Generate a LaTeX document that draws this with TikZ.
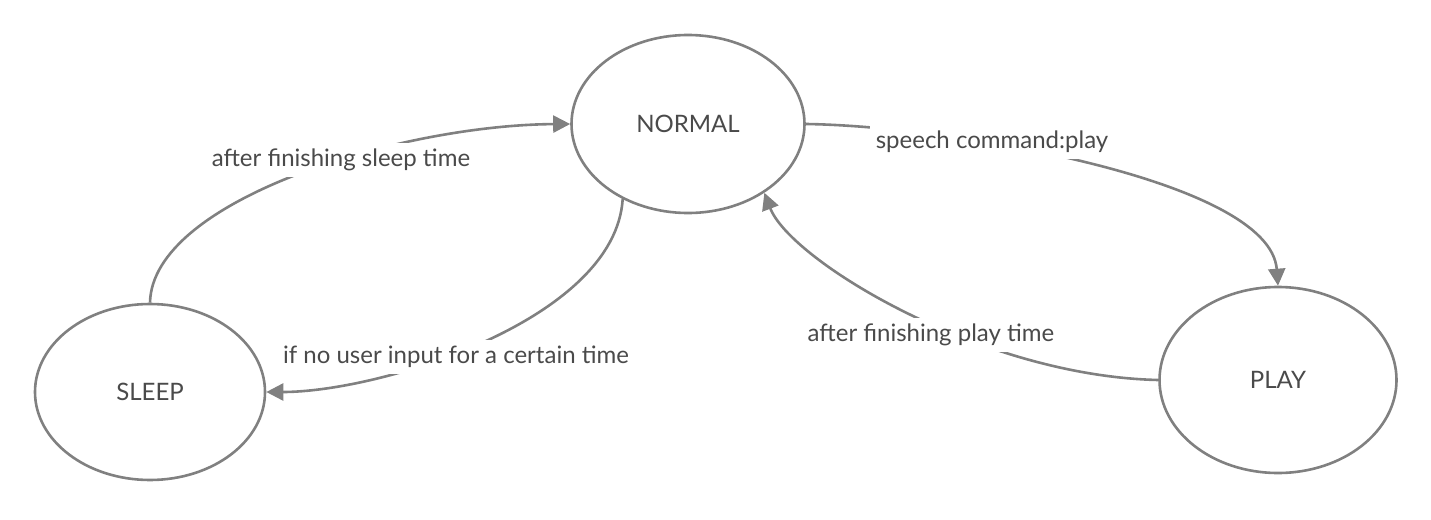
\documentclass[tikz,border=0pt]{standalone}
\usepackage{fontspec}
\setmainfont{Lato}
\usetikzlibrary{shapes.geometric,arrows.meta}
\definecolor{edgegray}{HTML}{808080}
\definecolor{txtgray}{HTML}{4A4A4A}
\tikzset{
  statebox/.style={ellipse, draw=edgegray, line width=2.6pt, fill=white, text=txtgray, font=\fontsize{24}{28}\selectfont, inner sep=0pt},
  conn/.style={draw=edgegray, line width=2.6pt, -{Triangle[length=17pt,width=17pt]}},
  lbl/.style={fill=white, text=txtgray, font=\fontsize{24}{28}\selectfont, inner sep=6pt}
}
\begin{document}
\begin{tikzpicture}[x=1pt,y=-1pt]
\useasboundingbox (0,0) rectangle (1431,519);
\node[statebox, minimum width=233pt, minimum height=178pt] (normal) at (688,124) {NORMAL};
\node[statebox, minimum width=230pt, minimum height=176pt] (sleep) at (150,392) {SLEEP};
\node[statebox, minimum width=237pt, minimum height=186pt] (play) at (1278,380) {PLAY};
\draw[conn] (sleep.north) .. controls (152,200) and (400,125) .. (normal.west);
\draw[conn] (normal.-131) .. controls (615,320) and (380,392) .. (sleep.east);
\draw[conn] (normal.east) .. controls (950,126) and (1270,180) .. (play.north);
\draw[conn] (play.west) .. controls (980,376) and (790,260) .. (normal.-42);
\node[lbl] (l1) at (341,160) {after finishing sleep time};
\node[lbl] (l2) at (456,357) {if no user input for a certain time};
\node[lbl] (l3) at (992,142) {speech command:play};
\node[lbl] (l4) at (931,335) {after finishing play time};
\end{tikzpicture}
\end{document}
